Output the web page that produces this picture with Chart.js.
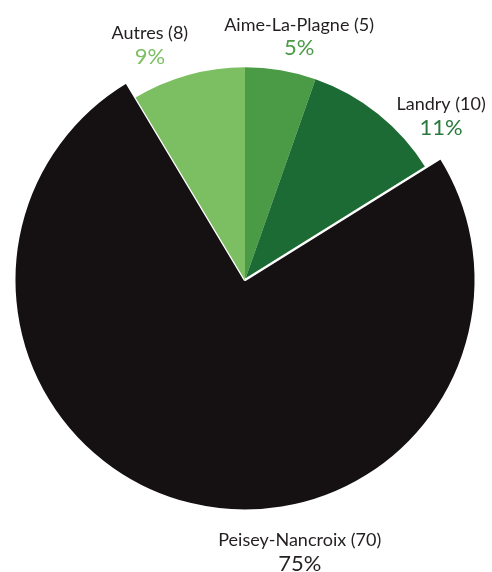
<!DOCTYPE html>
<html>
<head>
<meta charset="utf-8">
<script src="https://cdn.jsdelivr.net/npm/chart.js@4/dist/chart.umd.min.js"></script>
<style>
  html, body { margin: 0; padding: 0; background: #fff; }
  #wrap { width: 492px; height: 572px; }
</style>
</head>
<body>
<div id="wrap"><canvas id="communePie"></canvas></div>
<script>
var communes = ["Aime-La-Plagne", "Landry", "Peisey-Nancroix", "Autres"];
var counts = [5, 10, 70, 8];
var percents = ["5%", "11%", "75%", "9%"];

var sliceColors = ["#4b9a46", "#1c6b34", "#151112", "#7cbf62"];
var pctColors = ["#4b9a46", "#2a7a3d", "#231f20", "#7cbf62"];
// label anchor: angle (deg clockwise from top) and distance from centre
var labelAngles = [12.5, 50, 168.6, 338];
var labelDist = [250, 256, 277, 254];

var greenScale = 0.922; // the small slices sit inside the big one

var shrinkPlugin = {
    id: 'shrinkSmall',
    beforeDatasetsDraw: function (chart) {
        var meta = chart.getDatasetMeta(0);
        var r = meta.controller.outerRadius;
        meta.data.forEach(function (arc, i) {
            arc.outerRadius = (i === 2) ? r : r * greenScale;
        });
    }
};

var labelPlugin = {
    id: 'outLabels',
    afterDraw: function (chart) {
        var ctx = chart.ctx;
        var arc0 = chart.getDatasetMeta(0).data[0];
        var cx = arc0.x, cy = arc0.y;
        ctx.save();
        ctx.textAlign = 'center';
        ctx.textBaseline = 'middle';
        for (var i = 0; i < communes.length; i++) {
            var a = labelAngles[i] * Math.PI / 180;
            var x = cx + labelDist[i] * Math.sin(a);
            var y = cy - labelDist[i] * Math.cos(a);
            ctx.font = '18px Lato';
            ctx.fillStyle = '#231f20';
            ctx.fillText(communes[i] + ' (' + counts[i] + ')', x, y - 11);
            ctx.font = '22px Lato';
            ctx.fillStyle = pctColors[i];
            ctx.fillText(percents[i], x, y + 12);
        }
        ctx.restore();
    }
};

var ctx = document.getElementById('communePie').getContext('2d');
var pieChart = new Chart(ctx, {
    type: 'pie',
    data: {
        labels: communes,
        datasets: [{
            data: counts,
            backgroundColor: sliceColors,
            borderColor: '#ffffff',
            borderWidth: [0, 0, 2.5, 0]
        }]
    },
    options: {
        responsive: true,
        maintainAspectRatio: false,
        animation: false,
        layout: { padding: { left: 13, right: 15, top: 48, bottom: 60 } },
        plugins: {
            legend: { display: false },
            tooltip: { enabled: false }
        }
    },
    plugins: [shrinkPlugin, labelPlugin]
});
</script>
</body>
</html>
